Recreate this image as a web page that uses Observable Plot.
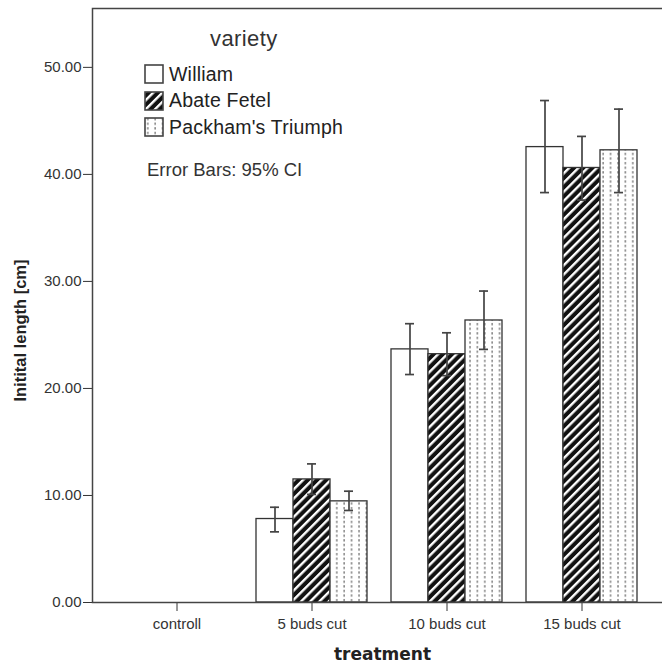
<!DOCTYPE html>
<html>
<head>
<meta charset="utf-8">
<script src="https://cdn.jsdelivr.net/npm/d3@7"></script>
<script src="https://cdn.jsdelivr.net/npm/@observablehq/plot@0.6"></script>
<style>
  html, body { margin: 0; padding: 0; background: #fff; overflow: hidden; }
  #wrap { position: relative; width: 662px; height: 668px; overflow: hidden; }
  #chart svg { max-width: none !important; }
  #legend { position: absolute; left: 0; top: 0; font-family: "Liberation Sans", Arial, sans-serif; color: #222; white-space: nowrap; }
  .title { position: absolute; left: 210px; top: 28px; font-size: 22px; letter-spacing: 0.4px; color: #333; line-height: 1; }
  .item { position: absolute; left: 144px; height: 20px; display: flex; align-items: center; font-size: 19.5px; letter-spacing: 0.2px; color: #222; white-space: nowrap; }
  .item svg { margin-right: 5px; flex: none; }
  .note { position: absolute; left: 147px; top: 160px; font-size: 18.5px; color: #333; white-space: nowrap; line-height: 1.1; }
</style>
</head>
<body>
<div id="wrap">
  <div id="chart"></div>
  <div id="legend"></div>
</div>
<script>
const treatments = ["controll", "5 buds cut", "10 buds cut", "15 buds cut"];
const varieties = ["William", "Abate Fetel", "Packham's Triumph"];

const williamMean = [null, 7.8, 23.65, 42.55];
const williamLow  = [null, 6.6, 21.3, 38.3];
const williamHigh = [null, 8.9, 26.05, 46.9];

const abateMean = [null, 11.5, 23.2, 40.6];
const abateLow  = [null, 10.1, 21.2, 37.6];
const abateHigh = [null, 12.95, 25.2, 43.55];

const packhamMean = [null, 9.45, 26.35, 42.25];
const packhamLow  = [null, 8.6, 23.65, 38.3];
const packhamHigh = [null, 10.4, 29.1, 46.1];

const yTicks = [0, 10, 20, 30, 40, 50];
const yLabel = "Initital length [cm]";
const xLabel = "treatment";
const legendTitle = "variety";
const note = "Error Bars: 95% CI";

const series = [
  {variety: varieties[0], mean: williamMean, low: williamLow, high: williamHigh, fill: "#fff"},
  {variety: varieties[1], mean: abateMean, low: abateLow, high: abateHigh, fill: "url(#stripes)"},
  {variety: varieties[2], mean: packhamMean, low: packhamLow, high: packhamHigh, fill: "url(#dots)"}
];

const rows = series.map(s => treatments.map((t, j) => ({
  treatment: t, variety: s.variety, mean: s.mean[j], low: s.low[j], high: s.high[j]
})).filter(d => d.mean != null));

const barW = 37;
const marks = [];
series.forEach((s, i) => {
  marks.push(Plot.barY(rows[i], {
    x: "treatment", y: "mean", fill: s.fill, stroke: "#333", strokeWidth: 1.3,
    insetLeft: i * barW, insetRight: (2 - i) * barW
  }));
});
series.forEach((s, i) => {
  const off = (i - 1) * barW;
  marks.push(Plot.ruleX(rows[i], {x: "treatment", y1: "low", y2: "high", dx: off, stroke: "#444", strokeWidth: 1.7}));
  marks.push(Plot.tickY(rows[i], {x: "treatment", y: "low", dx: off, insetLeft: 51, insetRight: 51, stroke: "#444", strokeWidth: 1.7}));
  marks.push(Plot.tickY(rows[i], {x: "treatment", y: "high", dx: off, insetLeft: 51, insetRight: 51, stroke: "#444", strokeWidth: 1.7}));
});
marks.push(Plot.frame({stroke: "#444", strokeWidth: 1.5}));
marks.push(Plot.text([yLabel], {frameAnchor: "left", textAnchor: "middle", dx: -72, dy: 25, rotate: -90, fontSize: 16.5, fontWeight: "bold", fill: "#222"}));
marks.push(Plot.text([xLabel], {frameAnchor: "bottom", dy: 57, fontSize: 17, fontWeight: "bold", fill: "#222", fontFamily: "DejaVu Sans"}));

const chart = Plot.plot({
  width: 672,
  height: 668,
  marginLeft: 92,
  marginRight: 0,
  marginTop: 8,
  marginBottom: 66,
  style: {fontFamily: "Liberation Sans, Arial, sans-serif", fontSize: "15px", color: "#333", background: "#fff", maxWidth: "none"},
  x: {domain: treatments, range: [108.25, 650.25], paddingInner: 0.18, paddingOuter: 0.09, align: 0.5, tickSize: 9, tickPadding: 7, label: null},
  y: {domain: [0, 55.5], ticks: yTicks, tickFormat: d3.format(".2f"), tickSize: 9, tickPadding: 2, label: null},
  marks
});

d3.select(chart).insert("defs", ":first-child").html(`
  <pattern id="stripes" patternUnits="userSpaceOnUse" width="6.5" height="6.5" patternTransform="rotate(45)">
    <rect width="6.5" height="6.5" fill="#111"></rect>
    <rect width="2.4" height="6.5" fill="#fff"></rect>
  </pattern>
  <pattern id="dots" patternUnits="userSpaceOnUse" width="7.4" height="4.6">
    <rect width="7.4" height="4.6" fill="#fff"></rect>
    <rect x="3" y="1" width="1.6" height="2.3" fill="#888"></rect>
  </pattern>`);
document.getElementById("chart").appendChild(chart);

// legend
const legend = d3.select("#legend");
legend.append("div").attr("class", "title").text(legendTitle);
series.forEach((s, i) => {
  const item = legend.append("div").attr("class", "item").style("top", (64 + i * 26.5) + "px");
  const sw = item.append("svg").attr("width", 20).attr("height", 20);
  sw.append("rect").attr("x", 1).attr("y", 1).attr("width", 18).attr("height", 18)
    .attr("fill", s.fill).attr("stroke", "#444").attr("stroke-width", 1.6);
  item.append("span").text(s.variety);
});
legend.append("div").attr("class", "note").text(note);
</script>
</body>
</html>
